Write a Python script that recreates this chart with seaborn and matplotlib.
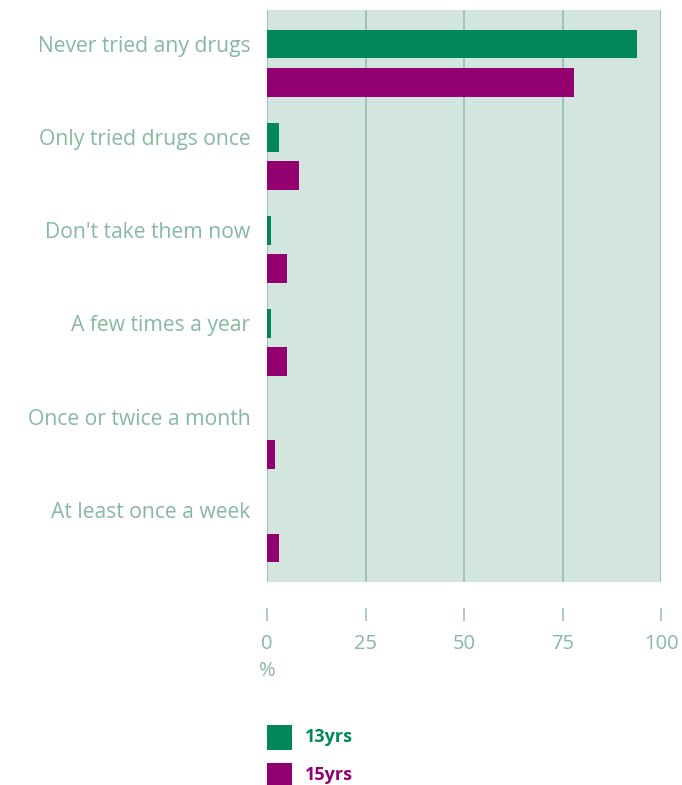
import numpy as np
import pandas as pd
import matplotlib
matplotlib.use("Agg")
import matplotlib.pyplot as plt
import seaborn as sns

# data (%)
categories = ["Never tried any drugs", "Only tried drugs once", "Don't take them now",
              "A few times a year", "Once or twice a month", "At least once a week"]
ages = ["13yrs", "15yrs"]
pct_13 = [94, 3, 1, 1, 0, 0]
pct_15 = [78, 8, 5, 5, 2, 3]

GREEN = "#00875a"
PURPLE = "#930070"
BG = "#d3e5df"
GRID = "#9cc4b3"
TEXT = "#86b9a0"

df = pd.DataFrame({
    "cat": categories * 2,
    "age": [ages[0]] * len(categories) + [ages[1]] * len(categories),
    "pct": pct_13 + pct_15,
})

sns.set_style("white")
plt.rcParams["font.family"] = ["Open Sans", "DejaVu Sans"]

fig = plt.figure(figsize=(6.82, 7.85), dpi=100)
ax = fig.add_axes([267 / 682, 1 - 582 / 785, 394 / 682, 572 / 785])
ax.set_facecolor(BG)

sns.barplot(data=df, x="pct", y="cat", hue="age", order=categories, hue_order=ages,
            palette=[GREEN, PURPLE], orient="h", width=0.82, gap=0.244,
            saturation=1, linewidth=0, ax=ax)

ax.set_xlim(0, 100)
ax.set_ylim(5.57, -0.57)
ax.set_xticks([0, 25, 50, 75, 100])
ax.set_yticks(np.arange(len(categories)) - 0.205, categories)
ax.set_xlabel("")
ax.set_ylabel("")

ax.set_axisbelow(True)
ax.grid(axis="x", color=GRID, linewidth=1.4)
ax.grid(axis="y", visible=False)
for s in ax.spines.values():
    s.set_visible(False)
ax.spines["bottom"].set_position(("outward", 18.5))

ax.tick_params(axis="y", length=0, pad=12, labelsize=15.2, labelcolor=TEXT)
ax.tick_params(axis="x", bottom=True, length=9, width=1.2, color=GRID,
               direction="out", pad=10, labelsize=14.5, labelcolor=TEXT)

ax.text(0, -0.155, "%", transform=ax.get_xaxis_transform(), ha="center", va="center",
        fontsize=14.5, color=TEXT)

handles, labels = ax.get_legend_handles_labels()
ax.legend(handles, labels, loc="upper left", bbox_to_anchor=(267 / 682, 1 - 726 / 785),
          bbox_transform=fig.transFigure, frameon=False, borderpad=0, borderaxespad=0,
          handlelength=1.39, handleheight=1.39, handletextpad=0.72, labelspacing=0.95,
          labelcolor="linecolor", prop={"size": 13, "weight": "bold"})
for h in ax.get_legend().legend_handles:
    h.set_height(25 * 0.72)
    h.set_y(h.get_y() - 3 * 0.72)

fig.savefig("out.png", dpi=100)
